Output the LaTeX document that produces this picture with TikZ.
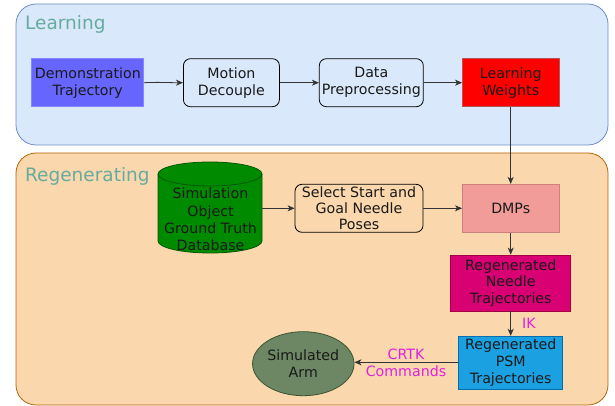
\documentclass[tikz,border=0pt]{standalone}
\usepackage{fontspec}
\setmainfont{DejaVu Sans}
\usetikzlibrary{arrows.meta,shapes.geometric}
\definecolor{lbg}{HTML}{DAE8FC}
\definecolor{lbd}{HTML}{6C8EBF}
\definecolor{rbg}{HTML}{FAD7AC}
\definecolor{rbd}{HTML}{B46504}
\definecolor{ttl}{HTML}{67AB9F}
\definecolor{demo}{HTML}{6666FF}
\definecolor{dmp}{HTML}{F19C99}
\definecolor{dmpd}{HTML}{D0807C}
\definecolor{ndl}{HTML}{D80073}
\definecolor{ndld}{HTML}{A50040}
\definecolor{psm}{HTML}{1BA1E2}
\definecolor{psmd}{HTML}{006EAF}
\definecolor{arm}{HTML}{6D8764}
\definecolor{armd}{HTML}{3A5431}
\definecolor{dbf}{HTML}{008A00}
\definecolor{dbd}{HTML}{005700}
\definecolor{lbl}{HTML}{DD22DD}
\definecolor{wd}{HTML}{B85450}
\begin{document}
\begin{tikzpicture}[x=1pt,y=-1pt,
  txt/.style={font=\fontsize{14.2}{16.8}\selectfont, align=center, inner sep=0pt, text=black!90},
  boxn/.style={txt, draw, line width=0.8pt, minimum width=#1},
  rbox/.style={boxn=#1, rounded corners=7pt, draw=black},
  conn/.style={draw=black!80, line width=0.8pt, -{Stealth[length=7pt,width=6pt,inset=2pt]}},
  ttlstyle/.style={font=\fontsize{18.5}{20}\selectfont, text=ttl, inner sep=0pt, anchor=base west},
  lbls/.style={font=\fontsize{14.2}{17.5}\selectfont, text=lbl, align=center, inner sep=0pt}
]
\useasboundingbox (0,0) rectangle (615,406);
% containers
\draw[fill=lbg, draw=lbd, line width=0.8pt, rounded corners=20pt] (16,4) rectangle (608,145);
\draw[fill=rbg, draw=rbd, line width=0.8pt, rounded corners=20pt] (16,153) rectangle (608,405);
\node[ttlstyle] (tl) at (25,30) {Learning};
\node[ttlstyle] (tr) at (25,182) {Regenerating};
% learning row
\node[boxn=112pt, minimum height=48pt, fill=demo, draw=demo!80!white] (demo) at (87.8,82.7) {Demonstration\\Trajectory};
\node[rbox=96pt, minimum height=48pt, fill=lbg] (motion) at (231.4,82.7) {Motion\\Decouple};
\node[rbox=104pt, minimum height=48pt, fill=lbg] (prep) at (371.3,82.7) {Data\\Preprocessing};
\node[boxn=96.5pt, minimum height=48pt, fill=red, draw=wd] (weights) at (510.7,82.7) {Learning\\Weights};
% database cylinder
\draw[fill=dbf, draw=dbd, line width=0.8pt]
  (158,174) -- (158,241) arc[start angle=180, end angle=0, x radius=52, y radius=12]
  -- (262,174) arc[start angle=0, end angle=-180, x radius=52, y radius=12] -- cycle;
\draw[draw=dbd, line width=0.8pt] (158,174) arc[start angle=180, end angle=0, x radius=52, y radius=12];
\node[txt, font=\fontsize{14.2}{17.2}\selectfont] (db) at (210.5,219.5) {Simulation\\Object\\Ground Truth\\Database};
\coordinate (dbE) at (262,208.3);
% regenerating nodes
\node[rbox=128pt, minimum height=48pt, fill=rbg, font=\fontsize{14.2}{15.8}\selectfont] (select) at (359,208.3) {Select Start and\\Goal Needle\\Poses};
\node[boxn=96.5pt, minimum height=48pt, fill=dmp, draw=dmpd] (dmps) at (510.7,208.3) {DMPs};
\node[boxn=120pt, minimum height=56pt, fill=ndl, draw=ndld] (needle) at (510.7,283) {Regenerated\\Needle\\Trajectories};
\node[boxn=104pt, minimum height=53pt, fill=psm, draw=psmd] (psm) at (510.7,362.7) {Regenerated\\PSM\\Trajectories};
\node[txt, ellipse, draw=armd, fill=arm, line width=0.8pt, minimum width=97pt, minimum height=64pt] (arm) at (303.3,363.7) {Simulated\\Arm};
% connectors
\draw[conn] (demo.east) .. controls (160,82) and (165,82.7) .. (motion.west);
\draw[conn] (motion) -- (prep);
\draw[conn] (prep) -- (weights);
\draw[conn] (weights) -- (dmps);
\draw[conn] (dbE) -- (select);
\draw[conn] (select) -- (dmps);
\draw[conn] (dmps) -- (needle);
\draw[conn] (needle) -- node[lbls, right=11pt, pos=0.5] (ik) {IK} (psm);
\draw[conn] (psm.west |- 0,362.3) -- (arm.east |- 0,362.3);
\node[lbls] (crtk) at (406,363) {CRTK\\Commands};
\end{tikzpicture}
\end{document}
